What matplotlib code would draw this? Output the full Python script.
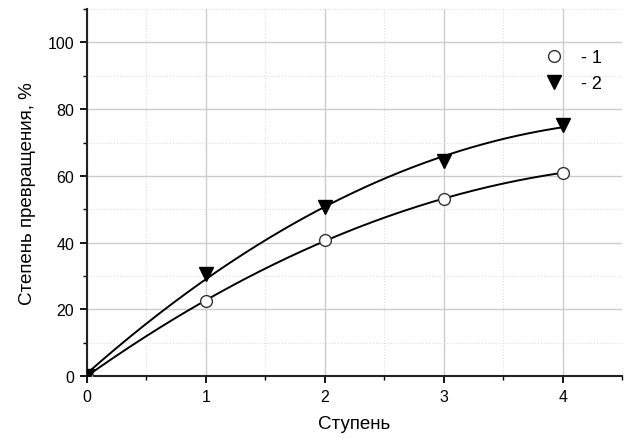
import numpy as np
import matplotlib
matplotlib.use("Agg")
import matplotlib.pyplot as plt
from matplotlib.ticker import MultipleLocator

plt.rcParams['font.family'] = ['Liberation Sans', 'DejaVu Sans']

steps = [0, 1, 2, 3, 4]
series1 = [0, 22.5, 40.8, 53.0, 61.0]
series2 = [0, 30.5, 50.7, 64.5, 75.3]
labels = ['- 1', '- 2']
xlabel = 'Ступень'
ylabel = 'Степень превращения, %'

fig = plt.figure(figsize=(6.24, 4.39), dpi=100)
ax = fig.add_axes([0.139, 0.141, 0.858, 0.836])

xs = np.linspace(0, 4, 200)
for y in (series1, series2):
    c = np.polyfit(steps, y, 2)
    ax.plot(xs, np.polyval(c, xs), color='black', lw=1.4, zorder=3)

ax.plot(steps, series1, 'o', mfc='white', mec='#333333', ms=8.5, mew=1.0, ls='none', label=labels[0], zorder=4)
ax.plot(steps, series2, 'v', color='black', ms=9.5, ls='none', label=labels[1], zorder=4)

ax.set_xlim(0, 4.5)
ax.set_ylim(0, 110)
ax.xaxis.set_major_locator(MultipleLocator(1))
ax.xaxis.set_minor_locator(MultipleLocator(0.5))
ax.yaxis.set_minor_locator(MultipleLocator(10))
ax.set_yticks([0, 20, 40, 60, 80, 100])

ax.grid(True, which='major', color='#cccccc', lw=1.0)
ax.grid(True, which='minor', color='#dddddd', lw=0.8, ls=':')
ax.set_axisbelow(True)

for s in ('top', 'right'):
    ax.spines[s].set_visible(False)
for s in ('left', 'bottom'):
    ax.spines[s].set_linewidth(1.5)
    ax.spines[s].set_color('#222222')

ax.tick_params(which='major', direction='out', length=5, width=1.3, labelsize=11.5, pad=4)
ax.tick_params(which='minor', direction='out', length=3, width=1.0)

ax.set_xlabel(xlabel, fontsize=13.5, labelpad=8)
ax.set_ylabel(ylabel, fontsize=13.5, labelpad=8)

ax.legend(loc='upper right', bbox_to_anchor=(0.962, 0.89), frameon=False, fontsize=13,
          handletextpad=0.9, handlelength=1.2, borderaxespad=0, borderpad=0, labelspacing=0.5)

fig.savefig('out.png', dpi=100)
